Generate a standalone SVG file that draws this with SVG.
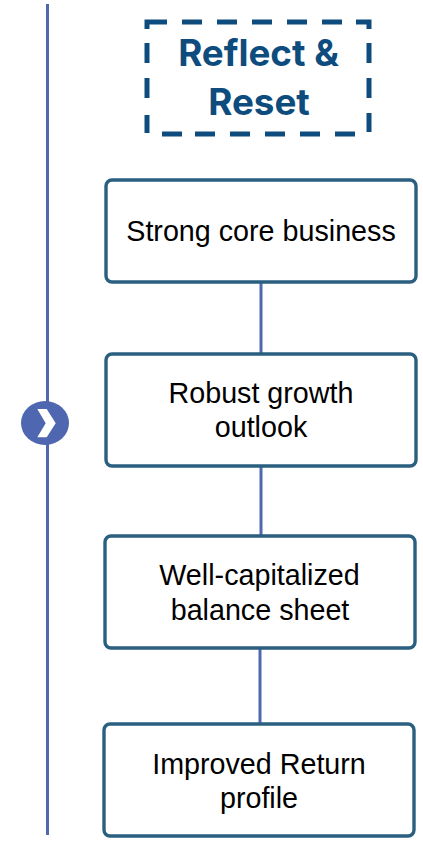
<svg xmlns="http://www.w3.org/2000/svg" width="423" height="842" viewBox="0 0 423 842">
<style>
.b{fill:#fff;stroke:#2a5f7f;stroke-width:3.4}
.c{stroke:#5068b0;stroke-width:3;fill:none}
.t{font-family:"Liberation Sans",Arial,sans-serif;font-size:28.7px;fill:#000;text-anchor:middle}
.h{font-family:Inter,"Liberation Sans",sans-serif;font-size:36.8px;font-weight:700;fill:#0f4c7e;text-anchor:middle}
</style>
<rect width="423" height="842" fill="#fff"/>
<g id="connectors">
<path class="c" d="M47.500 4V835"/>
<path class="c" d="M261 282V354M261 466V536M260 648V724"/>
</g>
<g id="marker"><ellipse cx="45" cy="423" rx="24" ry="22" fill="#4f67b0"/><path d="M37.3 409H46.7L55.7 423.3L46.7 437.3H37.3L45.7 423.3Z" fill="#fff"/></g>
<g id="reflect"><path fill="none" stroke="#0f4c7e" stroke-width="5" d="M147 29V22H167M182 22H202M217 22H237M252 22H272M287 22H307M322 22H342M356 22H369V29M369 43V63M369 78V98M369 113V132M355 134H335M320 134H300M285 134H265M250 134H230M215 134H195M182 134H162M147 133V115M147 98V78M147 63V43"/><text class="h" x="258.500" y="66">Reflect &amp;</text><text class="h" x="259" y="114.500">Reset</text></g>
<g id="n1"><rect class="b" x="106" y="180" width="310" height="102" rx="6"/><text class="t" x="261" y="241">Strong core business</text></g>
<g id="n2"><rect class="b" x="106" y="354" width="310" height="112" rx="6"/><text class="t" x="261" y="403">Robust growth</text><text class="t" x="261" y="437">outlook</text></g>
<g id="n3"><rect class="b" x="105" y="536" width="310" height="112" rx="6"/><text class="t" x="259.500" y="585">Well-capitalized</text><text class="t" x="260" y="620">balance sheet</text></g>
<g id="n4"><rect class="b" x="104" y="724" width="310" height="112" rx="6"/><text class="t" x="259" y="774">Improved Return</text><text class="t" x="259" y="808">profile</text></g>
</svg>
